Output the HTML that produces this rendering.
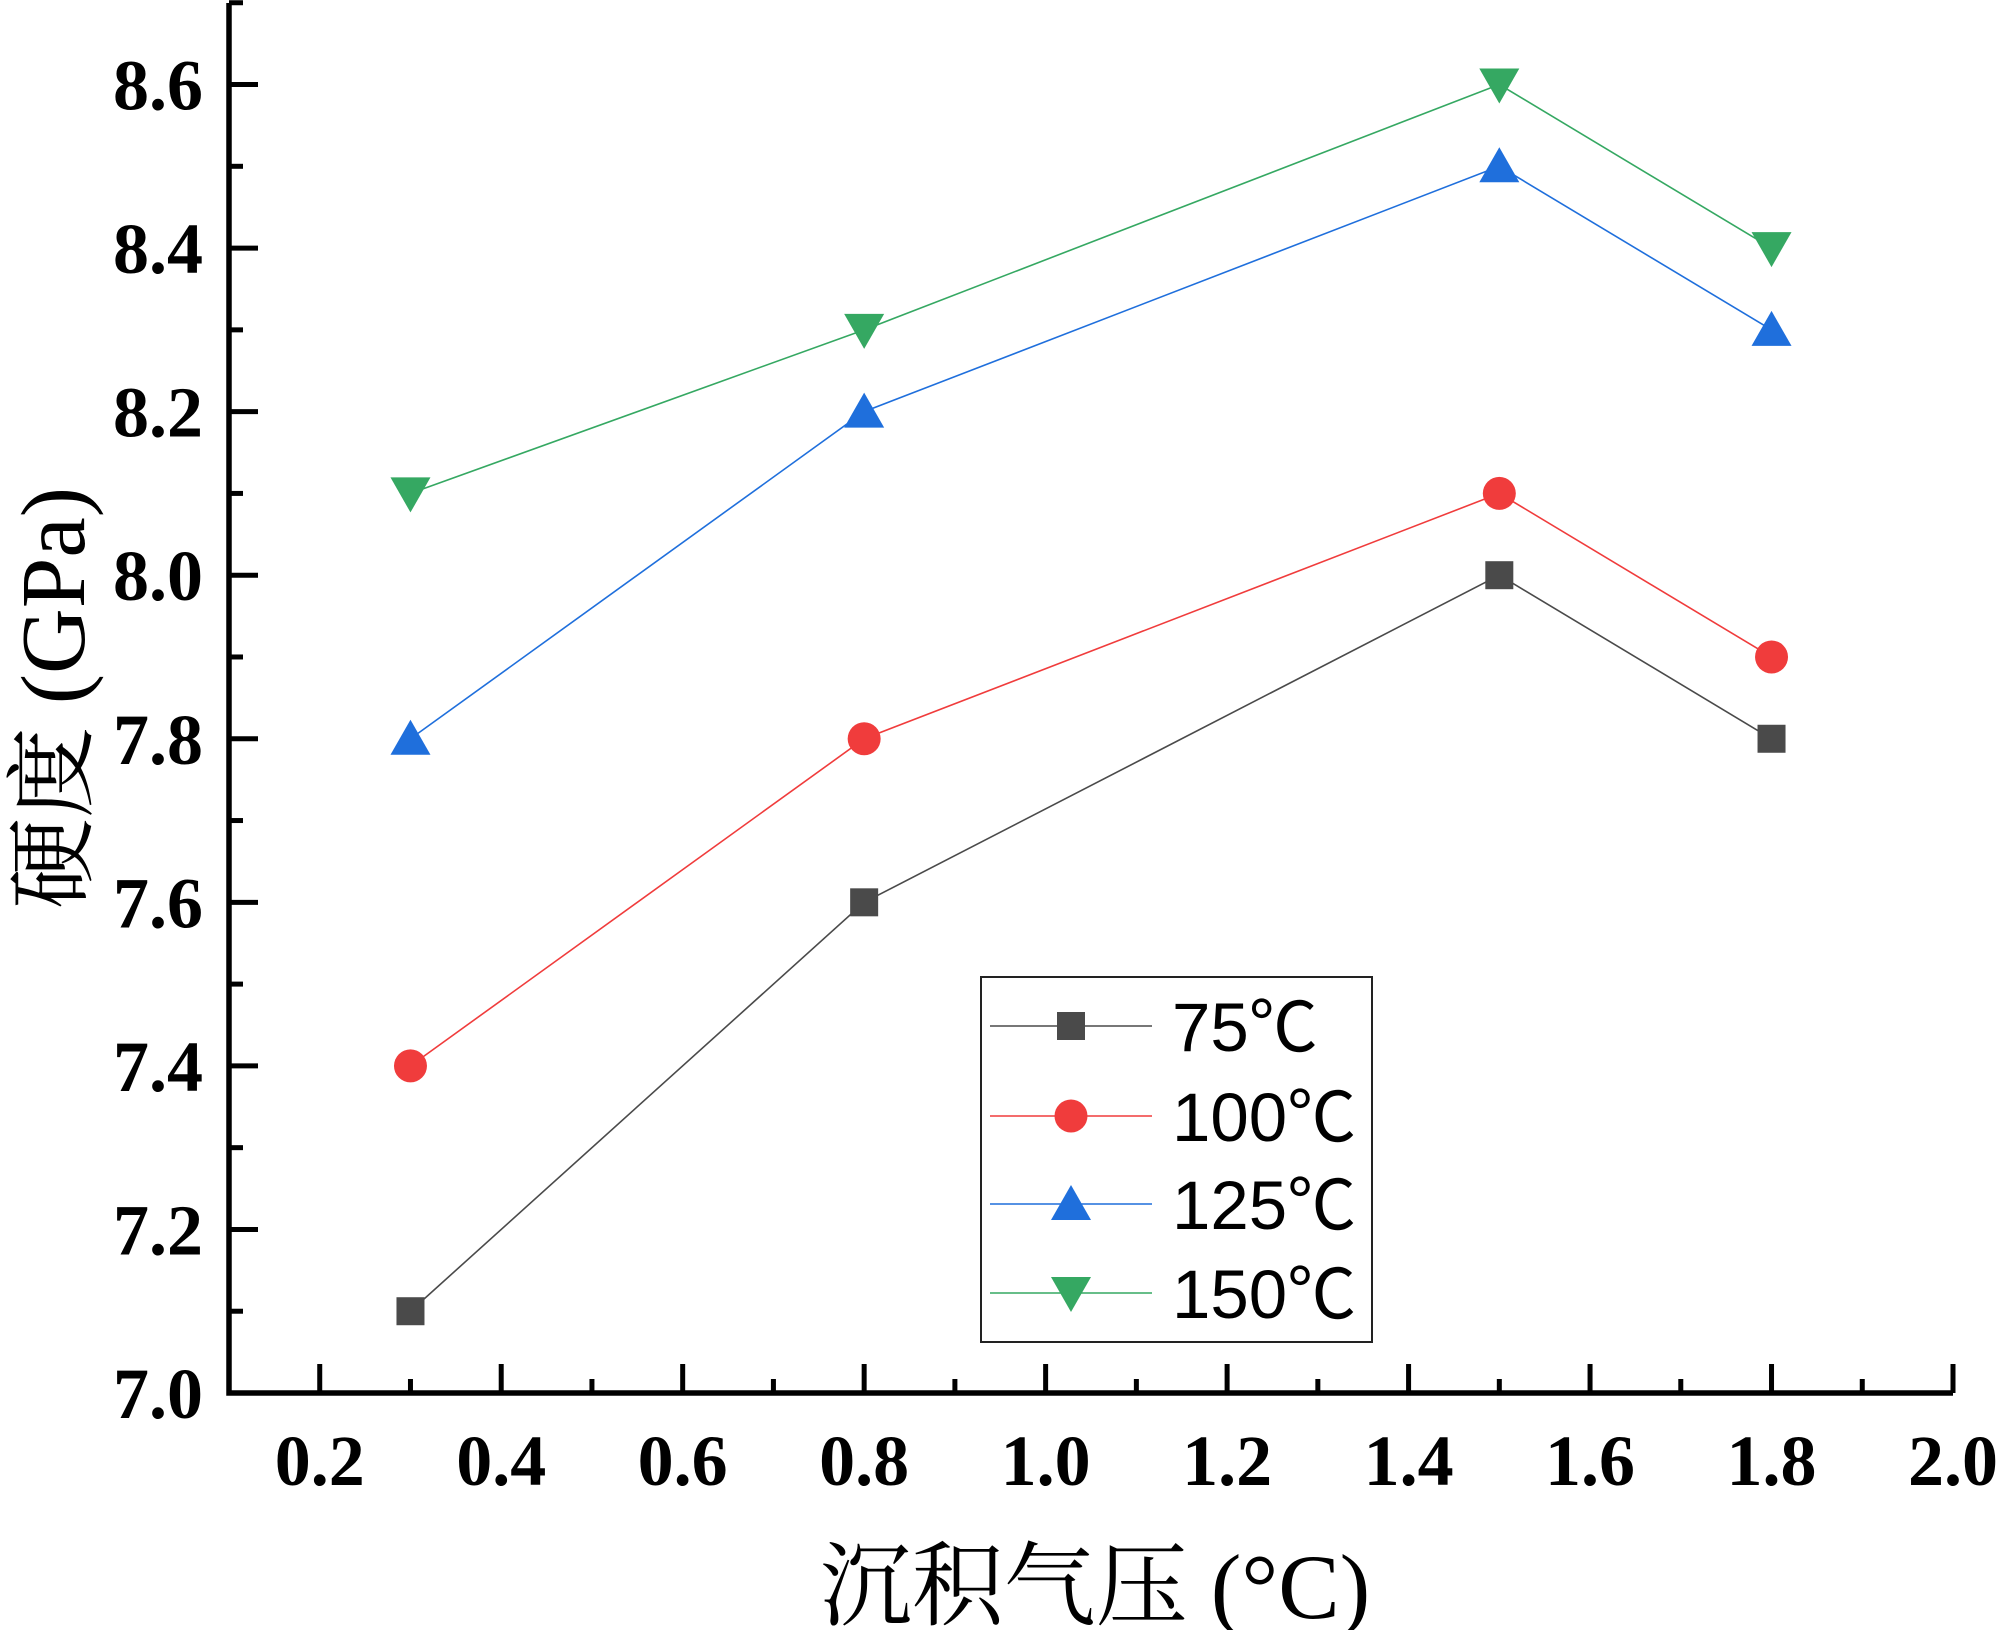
<!DOCTYPE html>
<html><head><meta charset="utf-8"><style>
html,body{margin:0;padding:0;background:#fff}
svg{display:block}
</style></head><body>
<svg id="chart" width="2000" height="1630" viewBox="0 0 2000 1630" xmlns="http://www.w3.org/2000/svg">
<g id="plot"></g>
<g id="legend"></g>
</svg>
<script>
const xValues = [0.3, 0.8, 1.5, 1.8];
const s75 = [7.1, 7.6, 8.0, 7.8];
const s100 = [7.4, 7.8, 8.1, 7.9];
const s125 = [7.8, 8.2, 8.5, 8.3];
const s150 = [8.1, 8.3, 8.6, 8.4];
const seriesNames = ["75℃", "100℃", "125℃", "150℃"];
const xTickLabels = ["0.2","0.4","0.6","0.8","1.0","1.2","1.4","1.6","1.8","2.0"];
const yTickLabels = ["7.0","7.2","7.4","7.6","7.8","8.0","8.2","8.4","8.6"];

const NS = "http://www.w3.org/2000/svg";
const X0 = 229, X1 = 1953, XMIN = 0.1, XMAX = 2.0;
const Y0 = 1393, YMIN = 7.0, YPU = 817.8;
function sx(v){ return X0 + (v - XMIN) / (XMAX - XMIN) * (X1 - X0); }
function sy(v){ return Y0 - (v - YMIN) * YPU; }
function mk(tag, attrs, parent){ const e = document.createElementNS(NS, tag); for (const k in attrs) e.setAttribute(k, attrs[k]); parent.appendChild(e); return e; }

const plot = document.getElementById('plot');
const legend = document.getElementById('legend');
const colors = ["#4a4a4a", "#f03c3c", "#1f6fdc", "#35a862"];
const shapes = ["square", "circle", "up", "down"];
const allSeries = [s75, s100, s125, s150];

function marker(shape, x, y, color, parent){
  let e;
  if (shape === "square") e = mk('rect', {x:x-14, y:y-14, width:28, height:28, fill:color}, parent);
  else if (shape === "circle") e = mk('circle', {cx:x, cy:y, r:16.5, fill:color}, parent);
  else if (shape === "up") e = mk('polygon', {points:`${x-20},${y+16} ${x+20},${y+16} ${x},${y-19}`, fill:color}, parent);
  else e = mk('polygon', {points:`${x-20},${y-16} ${x+20},${y-16} ${x},${y+19}`, fill:color}, parent);
  return e;
}

allSeries.forEach((vals, i) => {
  const pts = vals.map((v, j) => sx(xValues[j]) + "," + sy(v)).join(" ");
  const line = mk('polyline', {points:pts, fill:"none", stroke:colors[i], "stroke-width":1.6}, plot);
  
  
  vals.forEach((v, j) => {
    const m = marker(shapes[i], sx(xValues[j]), sy(v), colors[i], plot);
    
    
  });
});

const ax = mk('path', {d:`M${X0} 3 V${Y0} H${X1}`, fill:"none", stroke:"#000", "stroke-width":5.5}, plot);


for (let k = 1; k <= 19; k++) {
  const v = 0.1 + k * 0.1; const x = sx(v);
  const major = k % 2 === 1;
  const t = mk('line', {x1:x, x2:x, y1:Y0, y2:Y0 - (major ? 29 : 14), stroke:"#000", "stroke-width":5}, plot);
  
  
}
xTickLabels.forEach((lab, i) => {
  const t = mk('text', {x:sx(0.2 + i*0.2), y:1485, "text-anchor":"middle", "font-family":"Liberation Serif, serif", "font-weight":"bold", "font-size":72}, plot);
  t.textContent = lab;
  
  
});
for (let k = 1; k <= 17; k++) {
  const v = 7.0 + k * 0.1; const y = sy(v);
  const major = k % 2 === 0;
  const t = mk('line', {x1:X0, x2:X0 + (major ? 29 : 14), y1:y, y2:y, stroke:"#000", "stroke-width":5}, plot);
  
  
}
yTickLabels.forEach((lab, i) => {
  const t = mk('text', {x:203, y:sy(7.0 + i*0.2) + 25, "text-anchor":"end", "font-family":"Liberation Serif, serif", "font-weight":"bold", "font-size":72}, plot);
  t.textContent = lab;
  
  
});
const xt = mk('text', {x:1095, y:1618, "text-anchor":"middle", "font-family":"Liberation Serif, Noto Serif CJK SC, serif", "font-size":92}, plot);
xt.textContent = "沉积气压 (°C)";


const yt = mk('text', {x:0, y:0, transform:"translate(84,698) rotate(-90)", "text-anchor":"middle", "font-family":"Liberation Serif, Noto Serif CJK SC, serif", "font-size":91}, plot);
yt.textContent = "硬度 (GPa)";



const lb = mk('rect', {x:981, y:977, width:391, height:365, fill:"#fff", stroke:"#222", "stroke-width":2}, legend);


const rowY = [1026, 1116, 1204, 1293];
seriesNames.forEach((n, i) => {
  const g = mk('g', {}, legend);
  
  
  mk('line', {x1:990, x2:1152, y1:rowY[i], y2:rowY[i], stroke:colors[i], "stroke-width":1.6}, g);
  marker(shapes[i], 1071, rowY[i], colors[i], g);
  const t = mk('text', {x:1172, y:rowY[i] + 25, "font-family":"Liberation Sans, Noto Sans CJK SC, sans-serif", "font-size":69}, g);
  t.textContent = n;
});
</script>
</body></html>
